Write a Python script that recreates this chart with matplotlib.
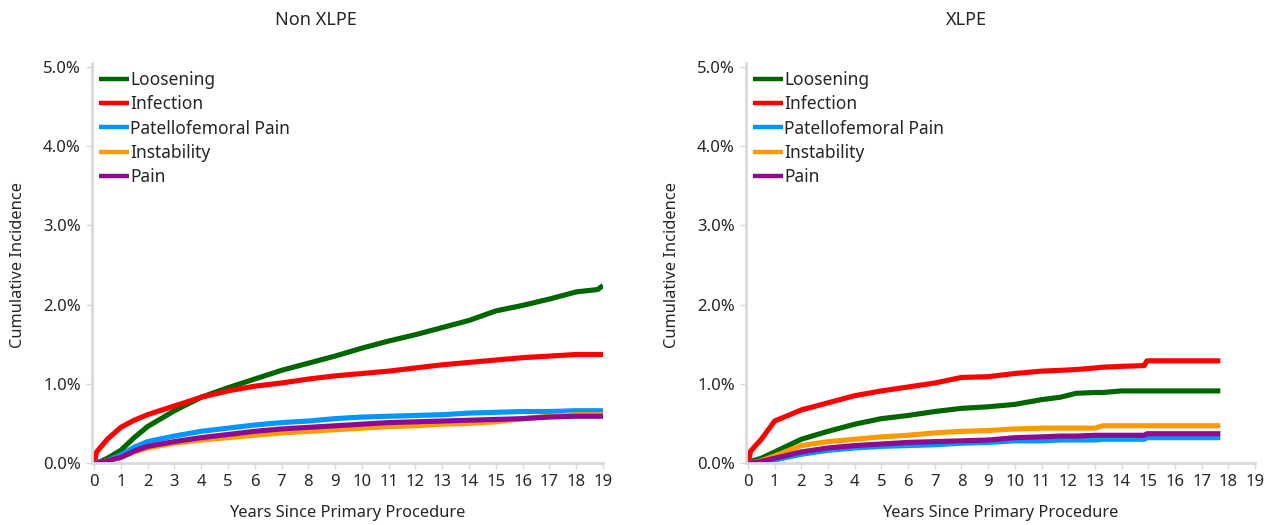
import numpy as np
import matplotlib
matplotlib.use("Agg")
import matplotlib.pyplot as plt
from matplotlib.ticker import FuncFormatter

plt.rcParams['font.family'] = ['Noto Sans', 'DejaVu Sans']

series_names = ['Loosening', 'Infection', 'Patellofemoral Pain', 'Instability', 'Pain']
colors = ['#006600', '#FF0000', '#0095FF', '#FF9900', '#8E0A8E']

# Non XLPE - cumulative incidence (%)
nx_years = [0, 0.1, 0.25, 0.5, 1, 1.5, 2, 3, 4, 5, 6, 7, 8, 9, 10, 11, 12, 13, 14, 15, 16, 17, 18, 18.8, 19]
nx_loosening = [0, 0.01, 0.02, 0.06, 0.16, 0.32, 0.46, 0.66, 0.83, 0.95, 1.06, 1.17, 1.26, 1.35, 1.45, 1.54, 1.62, 1.71, 1.80, 1.92, 1.99, 2.07, 2.16, 2.19, 2.24]
nx_infection = [0, 0.14, 0.20, 0.30, 0.45, 0.54, 0.61, 0.72, 0.83, 0.91, 0.97, 1.01, 1.06, 1.10, 1.13, 1.16, 1.20, 1.24, 1.27, 1.30, 1.33, 1.35, 1.37, 1.37, 1.37]
nx_patello = [0, 0.0, 0.01, 0.03, 0.10, 0.20, 0.27, 0.34, 0.40, 0.44, 0.48, 0.51, 0.53, 0.56, 0.58, 0.59, 0.60, 0.61, 0.63, 0.64, 0.65, 0.65, 0.66, 0.66, 0.66]
nx_instability = [0, 0.0, 0.01, 0.03, 0.07, 0.14, 0.19, 0.25, 0.29, 0.32, 0.35, 0.38, 0.40, 0.42, 0.44, 0.46, 0.47, 0.49, 0.50, 0.52, 0.56, 0.59, 0.61, 0.61, 0.61]
nx_pain = [0, 0.0, 0.01, 0.03, 0.07, 0.15, 0.21, 0.27, 0.32, 0.36, 0.40, 0.43, 0.45, 0.47, 0.49, 0.51, 0.52, 0.53, 0.54, 0.55, 0.56, 0.58, 0.59, 0.59, 0.59]

# XLPE - cumulative incidence (%)
x_years = [0, 0.1, 0.5, 1, 2, 3, 4, 5, 6, 7, 8, 9, 10, 11, 11.7, 12.3, 13, 13.3, 14, 14.85, 14.95, 16, 17, 17.7]
x_loosening = [0, 0.02, 0.06, 0.14, 0.30, 0.40, 0.49, 0.56, 0.60, 0.65, 0.69, 0.71, 0.74, 0.80, 0.83, 0.88, 0.89, 0.89, 0.91, 0.91, 0.91, 0.91, 0.91, 0.91]
x_infection = [0, 0.15, 0.30, 0.53, 0.67, 0.76, 0.85, 0.91, 0.96, 1.01, 1.08, 1.09, 1.13, 1.16, 1.17, 1.18, 1.20, 1.21, 1.22, 1.23, 1.29, 1.29, 1.29, 1.29]
x_patello = [0, 0.0, 0.01, 0.04, 0.11, 0.16, 0.19, 0.21, 0.22, 0.23, 0.25, 0.26, 0.28, 0.28, 0.29, 0.29, 0.29, 0.30, 0.30, 0.30, 0.32, 0.32, 0.32, 0.32]
x_instability = [0, 0.0, 0.03, 0.09, 0.22, 0.27, 0.30, 0.33, 0.35, 0.38, 0.40, 0.41, 0.43, 0.44, 0.44, 0.44, 0.44, 0.47, 0.47, 0.47, 0.47, 0.47, 0.47, 0.47]
x_pain = [0, 0.0, 0.02, 0.06, 0.14, 0.19, 0.22, 0.24, 0.26, 0.27, 0.28, 0.29, 0.32, 0.33, 0.34, 0.34, 0.35, 0.35, 0.35, 0.35, 0.37, 0.37, 0.37, 0.37]

panels = [
    ('Non XLPE', nx_years, [nx_loosening, nx_infection, nx_patello, nx_instability, nx_pain]),
    ('XLPE', x_years, [x_loosening, x_infection, x_patello, x_instability, x_pain]),
]

fig = plt.figure(figsize=(12.74, 5.25), dpi=100)
ax_rects = [[92 / 1274, 62 / 525, 511 / 1274, 400 / 525],
            [746 / 1274, 62 / 525, 509 / 1274, 400 / 525]]
title_x = [316 / 1274, 966 / 1274]
ylabel_x = [18 / 1274, 672 / 1274]
text_col = '#262626'

for i, (title, years, vals) in enumerate(panels):
    ax = fig.add_axes(ax_rects[i])
    for name, col, v in zip(series_names, colors, vals):
        ax.plot(years, np.array(v) / 100, color=col, lw=3.7, label=name,
                solid_capstyle='butt')
    ax.set_xlim(-0.075, 19)
    ax.set_ylim(0, 0.0505)
    ax.set_xticks(range(0, 20))
    ax.set_yticks([0, 0.01, 0.02, 0.03, 0.04, 0.05])
    ax.yaxis.set_major_formatter(FuncFormatter(lambda v, p: f'{v * 100:.1f}%'))
    for s in ['top', 'right']:
        ax.spines[s].set_visible(False)
    for s in ['left', 'bottom']:
        ax.spines[s].set_color('#D9D9D9')
        ax.spines[s].set_linewidth(2)
    ax.tick_params(colors='#D9D9D9', labelcolor=text_col, labelsize=12,
                   length=4, width=1, pad=4)
    leg = ax.legend(loc='upper left', bbox_to_anchor=(0.014, 0.98), frameon=False,
                    fontsize=12.5, handlelength=1.72, handletextpad=0.08,
                    labelspacing=0.36, borderaxespad=0, borderpad=0)
    for h in leg.get_lines():
        h.set_linewidth(3.2)
    for t in leg.get_texts():
        t.set_color(text_col)

    fig.text(title_x[i], 1 - 20 / 525, title, ha='center', va='center',
             fontsize=13, color=text_col)
    fig.text(ylabel_x[i], 1 - 265 / 525, 'Cumulative Incidence', rotation=90,
             ha='center', va='center', fontsize=11.8, color=text_col)
    cx = ax_rects[i][0] + ax_rects[i][2] / 2
    fig.text(cx, 1 - 513 / 525, 'Years Since Primary Procedure', ha='center',
             va='center', fontsize=11.8, color=text_col)

fig.savefig('out.png', dpi=100)
